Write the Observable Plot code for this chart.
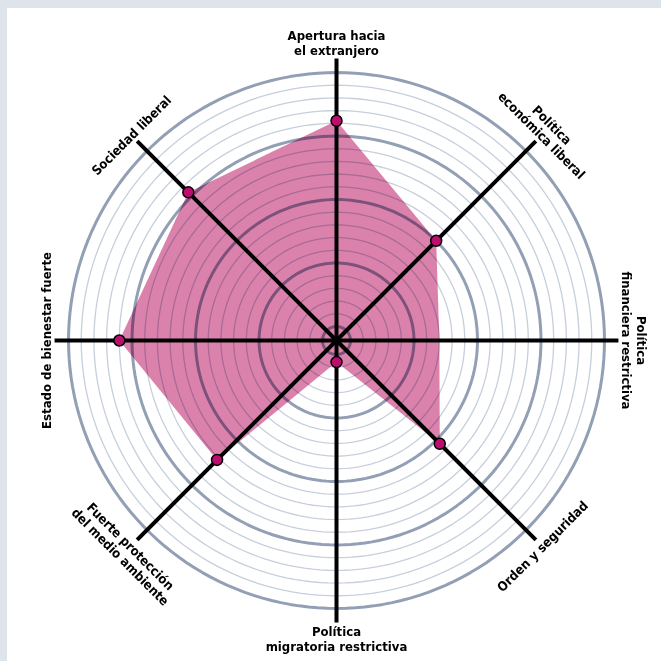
<!DOCTYPE html>
<html>
<head>
<meta charset="utf-8">
<script src="https://cdn.jsdelivr.net/npm/d3@7"></script>
<script src="https://cdn.jsdelivr.net/npm/@observablehq/plot@0.6"></script>
<style>
  html, body { margin: 0; padding: 0; background: #dfe4ec; width: 661px; height: 661px; overflow: hidden; }
  #panel { position: absolute; left: 7px; top: 8px; width: 654px; height: 653px; background: #ffffff; }
</style>
</head>
<body>
<div id="panel"></div>
<script>
// ---- data ----
const axisLabels = [
  "Apertura hacia\nel extranjero",
  "Política\neconómica liberal",
  "Política\nfinanciera restrictiva",
  "Orden y seguridad",
  "Política\nmigratoria restrictiva",
  "Fuerte protección\ndel medio ambiente",
  "Estado de bienestar fuerte",
  "Sociedad liberal"
];
const axisAngles = [0, 45, 90, 135, 180, 225, 270, 315]; // degrees clockwise from top
const scores = [81, 50, 35, 52, 3, 61, 80, 77];
const showMarker = [true, true, false, true, true, true, true, true];
const ringTicks = d3.range(0, 101, 5);
const majorRings = [0, 25, 50, 75, 100];

// ---- layout constants ----
const W = 654, H = 653;
const CX = 329, CY = 332;    // centre in svg px
const PX = 2.54;             // px per unit
const OFFSET = 5.5;          // value 0 sits at this radius (units)
const AXIS_END = 111;        // axis length (units)
const LABEL_R = 112.4;       // label inner edge (units)

const rad = d => d * Math.PI / 180;
const polar = (u, a) => ({x: u * Math.sin(rad(a)), y: u * Math.cos(rad(a))});

// rings
const ringPts = [];
for (const v of ringTicks) {
  for (let k = 0; k < 180; k++) {
    const a = k * 2;
    const p = polar(OFFSET + v, a);
    ringPts.push({ring: v, major: majorRings.includes(v), ...p});
  }
}

const profile = axisLabels.map((name, i) => ({
  name, angle: axisAngles[i], value: scores[i], show: showMarker[i],
  ...polar(OFFSET + scores[i], axisAngles[i])
}));

const axesData = axisLabels.map((name, i) => {
  const e = polar(AXIS_END, axisAngles[i]);
  return {name, x2: e.x, y2: e.y};
});

const labelData = axisLabels.map((name, i) => {
  const a = axisAngles[i];
  const p = polar(LABEL_R, a);
  const top = (a <= 90 || a >= 270);
  const rotate = top ? (a >= 270 ? a - 360 : a) : a - 180;
  return {name, rotate, top, ...p};
});

const font = "'Liberation Sans Narrow', 'DejaVu Sans Condensed', 'Roboto Condensed', 'Liberation Sans', sans-serif";

const chart = Plot.plot({
  width: W,
  height: H,
  margin: 0,
  x: {domain: [-CX / PX, (W - CX) / PX], axis: null},
  y: {domain: [-(H - CY) / PX, CY / PX], axis: null},
  style: {background: "transparent", overflow: "visible"},
  marks: [
    Plot.line(profile, {x: "x", y: "y", curve: "linear-closed", fill: "#da82ac", stroke: "none"}),
    Plot.line(ringPts.filter(d => !d.major), {x: "x", y: "y", z: "ring", curve: "linear-closed",
      stroke: "#c6cfdb", strokeWidth: 1.3, mixBlendMode: "multiply"}),
    Plot.line(ringPts.filter(d => d.major), {x: "x", y: "y", z: "ring", curve: "linear-closed",
      stroke: "#929fb5", strokeWidth: 3, mixBlendMode: "multiply"}),
    Plot.link(axesData, {x1: 0, y1: 0, x2: "x2", y2: "y2", stroke: "#000", strokeWidth: 4, strokeLinecap: "butt"}),
    Plot.dot(profile.filter(d => d.show), {x: "x", y: "y", r: 5.5, fill: "#bd0d6e", stroke: "#000", strokeWidth: 1.5}),
    Plot.text(labelData.filter(d => d.top), {x: "x", y: "y", text: "name", rotate: "rotate",
      lineAnchor: "bottom", textAnchor: "middle", fontSize: 13, fontWeight: "bold", fill: "#000",
      fontFamily: font, lineHeight: 1.12}),
    Plot.text(labelData.filter(d => !d.top), {x: "x", y: "y", text: "name", rotate: "rotate",
      lineAnchor: "top", textAnchor: "middle", fontSize: 13, fontWeight: "bold", fill: "#000",
      fontFamily: font, lineHeight: 1.12})
  ]
});
document.getElementById("panel").appendChild(chart);
</script>
</body>
</html>
